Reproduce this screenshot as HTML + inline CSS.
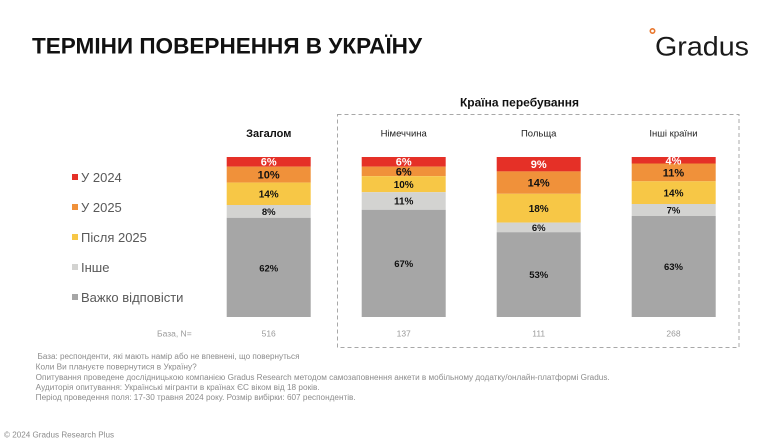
<!DOCTYPE html>
<html><head><meta charset="utf-8"><style>
html,body{margin:0;padding:0;background:#fff;}
svg{display:block;font-family:"Liberation Sans","Noto Sans CJK SC",sans-serif;}
</style></head><body>
<svg width="780" height="440" viewBox="0 0 780 440" xmlns="http://www.w3.org/2000/svg">
<rect width="780" height="440" fill="#fff"/>
<!-- Title -->
<text x="32" y="53.5" font-size="22" font-weight="bold" fill="#111" textLength="390" lengthAdjust="spacingAndGlyphs">ТЕРМІНИ ПОВЕРНЕННЯ В УКРАЇНУ</text>
<!-- Logo -->
<circle cx="652.5" cy="31" r="2.2" fill="none" stroke="#E8772E" stroke-width="1.6"/>
<text x="655" y="55.5" font-size="26.5" fill="#1a1a1a" textLength="94" lengthAdjust="spacingAndGlyphs">Gradus</text>

<!-- Country header -->
<text x="519.5" y="106.5" font-size="12" font-weight="bold" fill="#111" text-anchor="middle">Країна перебування</text>
<rect x="337.5" y="114.5" width="401.5" height="233" fill="none" stroke="#A8A8A8" stroke-width="1" stroke-dasharray="4 3"/>

<!-- Column headers -->
<text x="268.7" y="137" font-size="11" font-weight="bold" fill="#111" text-anchor="middle">Загалом</text>
<text x="403.7" y="136.5" font-size="9.5" fill="#222" text-anchor="middle">Німеччина</text>
<text x="538.7" y="136.5" font-size="9.5" fill="#222" text-anchor="middle">Польща</text>
<text x="673.5" y="136.5" font-size="9.5" fill="#222" text-anchor="middle">Інші країни</text>

<!-- Legend -->
<g font-size="13" fill="#595959">
<rect x="72" y="174" width="6" height="6" fill="#E53027"/><text x="81" y="182">У 2024</text>
<rect x="72" y="204" width="6" height="6" fill="#F0913A"/><text x="81" y="212">У 2025</text>
<rect x="72" y="234" width="6" height="6" fill="#F7C746"/><text x="81" y="242">Після 2025</text>
<rect x="72" y="264" width="6" height="6" fill="#D3D3D1"/><text x="81" y="272">Інше</text>
<rect x="72" y="294" width="6" height="6" fill="#A6A6A6"/><text x="81" y="302">Важко відповісти</text>
</g>

<!-- Bars -->
<g>
<rect x="226.7" y="157" width="84" height="9.6" fill="#E53027"/>
<rect x="226.7" y="166.6" width="84" height="16" fill="#F0913A"/>
<rect x="226.7" y="182.6" width="84" height="22.4" fill="#F7C746"/>
<rect x="226.7" y="205" width="84" height="12.8" fill="#D3D3D1"/>
<rect x="226.7" y="217.8" width="84" height="99.2" fill="#A6A6A6"/>
</g>
<g>
<rect x="361.7" y="157" width="84" height="9.6" fill="#E53027"/>
<rect x="361.7" y="166.6" width="84" height="9.6" fill="#F0913A"/>
<rect x="361.7" y="176.2" width="84" height="16" fill="#F7C746"/>
<rect x="361.7" y="192.2" width="84" height="17.6" fill="#D3D3D1"/>
<rect x="361.7" y="209.8" width="84" height="107.2" fill="#A6A6A6"/>
</g>
<g>
<rect x="496.7" y="157" width="84" height="14.4" fill="#E53027"/>
<rect x="496.7" y="171.4" width="84" height="22.4" fill="#F0913A"/>
<rect x="496.7" y="193.8" width="84" height="28.8" fill="#F7C746"/>
<rect x="496.7" y="222.6" width="84" height="9.6" fill="#D3D3D1"/>
<rect x="496.7" y="232.2" width="84" height="84.8" fill="#A6A6A6"/>
</g>
<g>
<rect x="631.7" y="157" width="84" height="6.5" fill="#E53027"/>
<rect x="631.7" y="163.5" width="84" height="17.8" fill="#F0913A"/>
<rect x="631.7" y="181.3" width="84" height="22.7" fill="#F7C746"/>
<rect x="631.7" y="204" width="84" height="12" fill="#D3D3D1"/>
<rect x="631.7" y="216" width="84" height="101" fill="#A6A6A6"/>
</g>

<!-- Value labels -->
<g font-weight="bold" text-anchor="middle" fill="#111">
<text x="268.7" y="165.7" font-size="11" fill="#fff">6%</text>
<text x="268.7" y="178.6" font-size="11">10%</text>
<text x="268.7" y="197.4" font-size="10">14%</text>
<text x="268.7" y="215" font-size="9.5">8%</text>
<text x="268.7" y="271.4" font-size="9.5">62%</text>

<text x="403.7" y="165.7" font-size="11" fill="#fff">6%</text>
<text x="403.7" y="175.4" font-size="11">6%</text>
<text x="403.7" y="187.8" font-size="10">10%</text>
<text x="403.7" y="204.5" font-size="10">11%</text>
<text x="403.7" y="267" font-size="9.5">67%</text>

<text x="538.7" y="168.2" font-size="11" fill="#fff">9%</text>
<text x="538.7" y="186.6" font-size="11">14%</text>
<text x="538.7" y="211.8" font-size="10">18%</text>
<text x="538.7" y="230.8" font-size="9.5">6%</text>
<text x="538.7" y="278" font-size="9.5">53%</text>

<text x="673.5" y="164.3" font-size="11" fill="#fff">4%</text>
<text x="673.5" y="176.3" font-size="11">11%</text>
<text x="673.5" y="196.3" font-size="10">14%</text>
<text x="673.5" y="213.5" font-size="9.5">7%</text>
<text x="673.5" y="269.9" font-size="9.5">63%</text>
</g>

<!-- Base -->
<g font-size="8.5" fill="#9a9a9a">
<text x="157" y="336.5">База, N=</text>
<text x="268.7" y="336.5" text-anchor="middle">516</text>
<text x="403.7" y="336.5" text-anchor="middle">137</text>
<text x="538.7" y="336.5" text-anchor="middle">111</text>
<text x="673.5" y="336.5" text-anchor="middle">268</text>
</g>

<!-- Footnotes -->
<g font-size="7.8" fill="#8c8c8c">
<text x="37.5" y="359" textLength="262" lengthAdjust="spacingAndGlyphs">База: респонденти, які мають намір або не впевнені, що повернуться</text>
<text x="35.7" y="369.5" textLength="161" lengthAdjust="spacingAndGlyphs">Коли Ви плануєте повернутися в Україну?</text>
<text x="35.7" y="380" textLength="574" lengthAdjust="spacingAndGlyphs">Опитування проведене дослідницькою компанією Gradus Research методом самозаповнення анкети в мобільному додатку/онлайн-платформі Gradus.</text>
<text x="35.7" y="390" textLength="284" lengthAdjust="spacingAndGlyphs">Аудиторія опитування: Українські мігранти в країнах ЄС віком від 18 років.</text>
<text x="35.7" y="400" textLength="320" lengthAdjust="spacingAndGlyphs">Період проведення поля: 17-30 травня 2024 року. Розмір вибірки: 607 респондентів.</text>
</g>
<text x="4" y="437.5" font-size="8.5" fill="#8c8c8c" textLength="110" lengthAdjust="spacingAndGlyphs">© 2024 Gradus Research Plus</text>
</svg>
</body></html>
